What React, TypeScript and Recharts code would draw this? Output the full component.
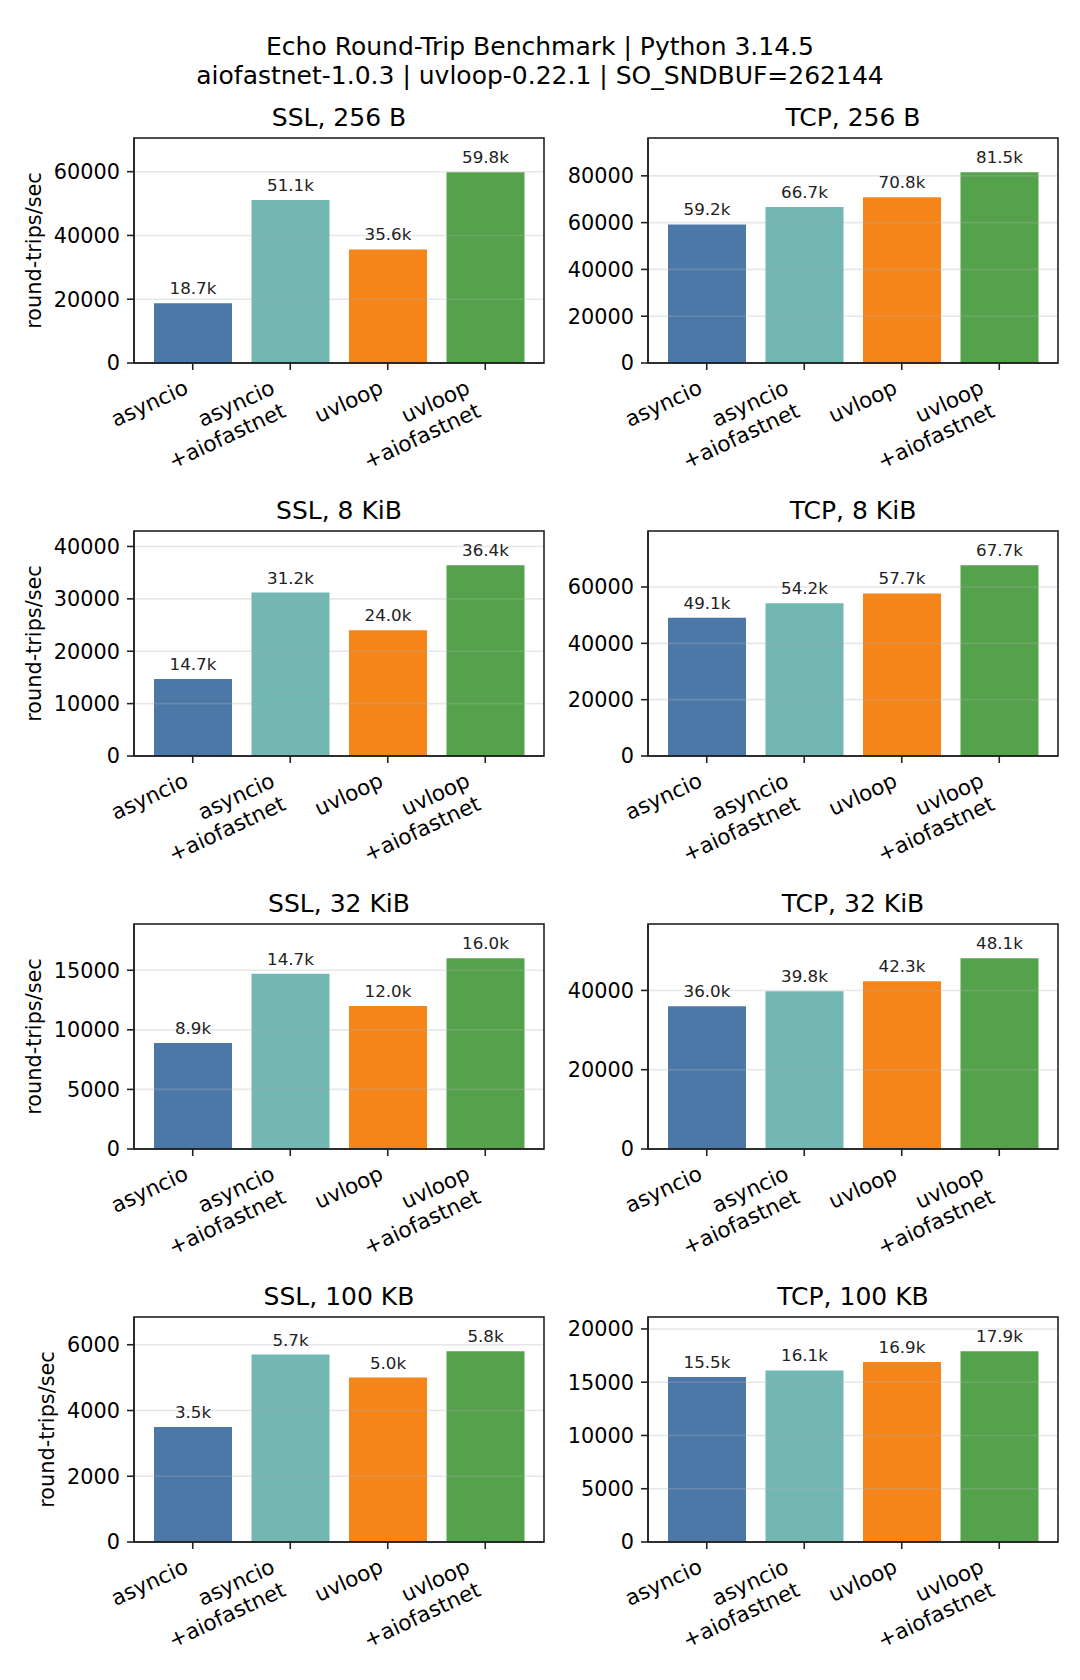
import { Bar, BarChart, Cell, LabelList, ReferenceLine, XAxis, YAxis } from "recharts";

// categories and colours (shared by all panels)
const categories = ["asyncio", "asyncio\n+aiofastnet", "uvloop", "uvloop\n+aiofastnet"];
const barColors = ["#4c78a8", "#72b7b2", "#f58518", "#54a24b"];

// round-trips/sec
const ssl256 = [18700, 51100, 35600, 59800];
const tcp256 = [59200, 66700, 70800, 81500];
const ssl8k = [14700, 31200, 24000, 36400];
const tcp8k = [49100, 54200, 57700, 67700];
const ssl32k = [8900, 14700, 12000, 16000];
const tcp32k = [36000, 39800, 42300, 48100];
const ssl100k = [3500, 5700, 5000, 5800];
const tcp100k = [15500, 16100, 16900, 17900];

// y tick labels per panel
const ssl256Ticks = [0, 20000, 40000, 60000];
const tcp256Ticks = [0, 20000, 40000, 60000, 80000];
const ssl8kTicks = [0, 10000, 20000, 30000, 40000];
const tcp8kTicks = [0, 20000, 40000, 60000];
const ssl32kTicks = [0, 5000, 10000, 15000];
const tcp32kTicks = [0, 20000, 40000];
const ssl100kTicks = [0, 2000, 4000, 6000];
const tcp100kTicks = [0, 5000, 10000, 15000, 20000];

const FONT = '"DejaVu Sans", sans-serif';
const INK = "#222";
const TICK_FS = 20.8;
const XTICK_FS = 21.5;
const PLOT_W = 410;
const PLOT_H = 225;
const ROW_TOPS = [138, 531, 924, 1317];
const COL_LEFTS = [134, 648];

let ctx: CanvasRenderingContext2D | null = null;
function textWidth(s: string, size: number) {
	if (!ctx) ctx = document.createElement("canvas").getContext("2d");
	if (!ctx) return s.length * size * 0.6;
	ctx.font = `${size}px "DejaVu Sans"`;
	return ctx.measureText(s).width;
}

// rotated, right-aligned multi-line tick label (matplotlib style)
function XTick({ x, y, payload }: any) {
	const lines = String(payload.value).split("\n");
	const W = Math.max(...lines.map((l) => textWidth(l, XTICK_FS)));
	const asc = 0.76 * XTICK_FS;
	const desc = 0.24 * XTICK_FS;
	const step = 25.5;
	const H = asc + step * (lines.length - 1) + desc;
	const th = (25 * Math.PI) / 180;
	const tx = x - 1 - (W * Math.cos(th) + H * Math.sin(th));
	const ty = y + 1 + W * Math.sin(th);
	return (
		<g transform={`translate(${tx},${ty}) rotate(-25)`}>
			{lines.map((l, i) => (
				<text
					key={i}
					x={W}
					y={asc + step * i}
					textAnchor="end"
					fontSize={XTICK_FS}
					fontFamily={FONT}
					fill="#000"
				>
					{l}
				</text>
			))}
		</g>
	);
}

function YLabel({ viewBox, axisW, ticks }: any) {
	const tickW = Math.max(...ticks.map((t: number) => textWidth(String(t), TICK_FS)));
	const cx = axisW - 14 - tickW - 8 - 0.24 * TICK_FS;
	const cy = (viewBox?.y ?? 0) + (viewBox?.height ?? PLOT_H) / 2;
	return (
		<text
			x={cx}
			y={cy}
			transform={`rotate(-90, ${cx}, ${cy})`}
			textAnchor="middle"
			fontSize={TICK_FS}
			fontFamily={FONT}
			fill="#000"
		>
			round-trips/sec
		</text>
	);
}

function ValueLabel({ x, y, width, value }: any) {
	return (
		<text
			x={x + width / 2}
			y={y - 9}
			textAnchor="middle"
			fontSize={16.7}
			fontFamily={FONT}
			fill={INK}
		>
			{(value / 1000).toFixed(1)}k
		</text>
	);
}

interface PanelProps {
	values: number[];
	ticks: number[];
	left: number;
	top: number;
	axisW: number;
	rightPad: number;
	showYLabel: boolean;
}

function Panel({ values, ticks, left, top, axisW, rightPad, showYLabel }: PanelProps) {
	const data = categories.map((name, i) => ({ name, value: values[i] }));
	const yMax = Math.max(...values) * 1.18;
	const axisStyle = { stroke: INK, strokeWidth: 1.6 };
	return (
		<div style={{ position: "absolute", left, top: top - 2 }}>
			<BarChart
				width={axisW + PLOT_W + rightPad}
				height={PLOT_H + 2 + 130}
				data={data}
				margin={{ top: 2, right: rightPad, bottom: 0, left: 0 }}
			>
				<XAxis
					dataKey="name"
					interval={0}
					padding={{ left: 10, right: 10 }}
					height={130}
					tickSize={7}
					tickMargin={7}
					axisLine={axisStyle}
					tickLine={axisStyle}
					tick={<XTick />}
				/>
				<YAxis
					domain={[0, yMax]}
					ticks={ticks}
					allowDataOverflow
					width={axisW}
					tickSize={7}
					tickMargin={7}
					axisLine={axisStyle}
					tickLine={axisStyle}
					tick={{ fontSize: TICK_FS, fontFamily: FONT, fill: "#000" }}
					label={showYLabel ? <YLabel axisW={axisW} ticks={ticks} /> : undefined}
				/>
				<Bar dataKey="value" barSize={78} isAnimationActive={false}>
					{data.map((d, i) => (
						<Cell key={d.name} fill={barColors[i]} />
					))}
					<LabelList dataKey="value" content={<ValueLabel />} />
				</Bar>
				{ticks
					.filter((t) => t > 0)
					.map((t) => (
						<ReferenceLine
							key={t}
							y={t}
							stroke="#b0b0b0"
							strokeOpacity={0.3}
							strokeWidth={1.6}
						/>
					))}
			</BarChart>
		</div>
	);
}

const panels = [
	{ title: "SSL, 256 B", values: ssl256, ticks: ssl256Ticks },
	{ title: "TCP, 256 B", values: tcp256, ticks: tcp256Ticks },
	{ title: "SSL, 8 KiB", values: ssl8k, ticks: ssl8kTicks },
	{ title: "TCP, 8 KiB", values: tcp8k, ticks: tcp8kTicks },
	{ title: "SSL, 32 KiB", values: ssl32k, ticks: ssl32kTicks },
	{ title: "TCP, 32 KiB", values: tcp32k, ticks: tcp32kTicks },
	{ title: "SSL, 100 KB", values: ssl100k, ticks: ssl100kTicks },
	{ title: "TCP, 100 KB", values: tcp100k, ticks: tcp100kTicks },
];

export default function App() {
	return (
		<div
			style={{
				position: "absolute",
				left: 0,
				top: 0,
				width: 1080,
				height: 1680,
				background: "#fff",
				fontFamily: FONT,
			}}
		>
			{panels.map((p, i) => {
				const col = i % 2;
				const row = Math.floor(i / 2);
				return (
					<Panel
						key={p.title}
						values={p.values}
						ticks={p.ticks}
						left={col === 0 ? 0 : 554}
						top={ROW_TOPS[row]}
						axisW={col === 0 ? 134 : 94}
						rightPad={col === 0 ? 10 : 12}
						showYLabel={col === 0}
					/>
				);
			})}
			<svg
				width={1080}
				height={1680}
				style={{ position: "absolute", left: 0, top: 0, pointerEvents: "none" }}
			>
				<text x={540} y={54.7} textAnchor="middle" fontSize={25} fontFamily={FONT} fill="#000">
					Echo Round-Trip Benchmark | Python 3.14.5
				</text>
				<text x={540} y={84.3} textAnchor="middle" fontSize={25} fontFamily={FONT} fill="#000">
					aiofastnet-1.0.3 | uvloop-0.22.1 | SO_SNDBUF=262144
				</text>
				{panels.map((p, i) => {
					const col = i % 2;
					const row = Math.floor(i / 2);
					const px = COL_LEFTS[col];
					const py = ROW_TOPS[row];
					return (
						<g key={p.title}>
							{/* axes frame (spines) */}
							<rect
								x={px}
								y={py}
								width={PLOT_W}
								height={PLOT_H}
								fill="none"
								stroke={INK}
								strokeWidth={1.6}
							/>
							<text
								x={px + PLOT_W / 2}
								y={py - 12}
								textAnchor="middle"
								fontSize={25}
								fontFamily={FONT}
								fill="#000"
							>
								{p.title}
							</text>
						</g>
					);
				})}
			</svg>
		</div>
	);
}
